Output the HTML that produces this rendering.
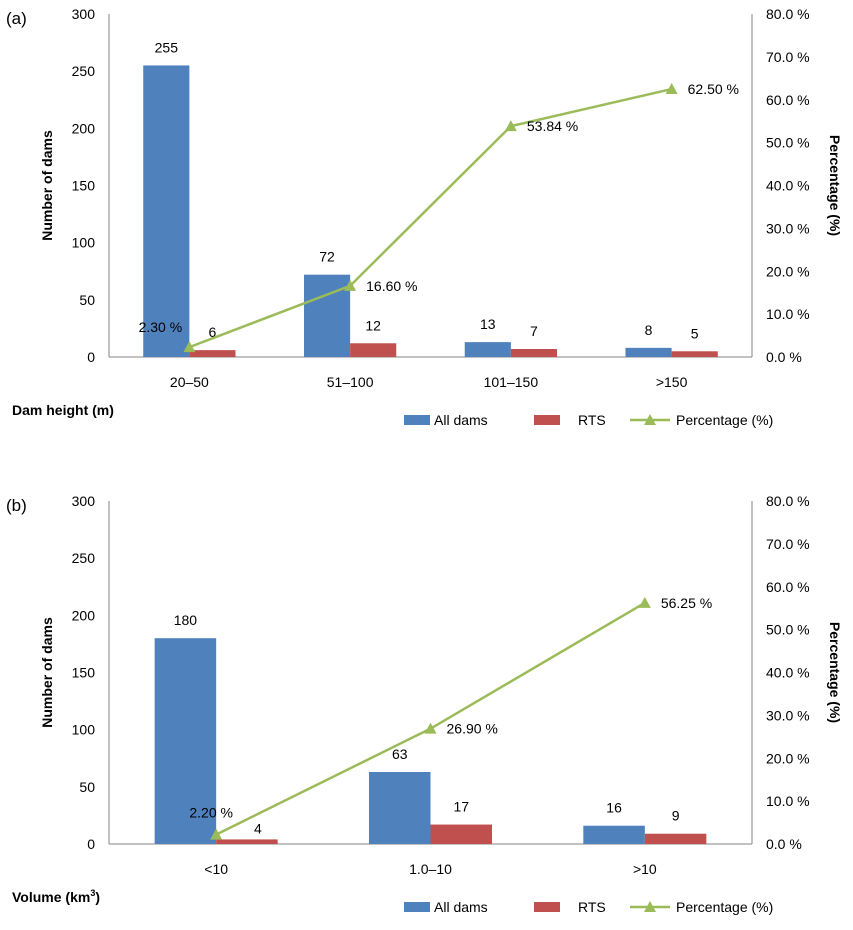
<!DOCTYPE html>
<html><head><meta charset="utf-8"><style>
body{margin:0;background:#fff;font-family:"Liberation Sans",sans-serif;}
svg text{font-family:"Liberation Sans",sans-serif;fill:#000;}
</style></head><body>
<svg id="c" width="853" height="925" xmlns="http://www.w3.org/2000/svg"></svg>
<script>
const catsA=["20–50","51–100","101–150",">150"];
const allA=[255,72,13,8];
const rtsA=[6,12,7,5];
const pctA=[2.30,16.60,53.84,62.50];
const pctLabA=["2.30 %","16.60 %","53.84 %","62.50 %"];
const catsB=["<10","1.0–10",">10"];
const allB=[180,63,16];
const rtsB=[4,17,9];
const pctB=[2.20,26.90,56.25];
const pctLabB=["2.20 %","26.90 %","56.25 %"];
const leftTicks=[0,50,100,150,200,250,300];
const rightTicks=[0,10,20,30,40,50,60,70,80];

const svg=document.getElementById('c');
const NS="http://www.w3.org/2000/svg";
function mk(t,a,p){const e=document.createElementNS(NS,t);for(const k in a)e.setAttribute(k,a[k]);(p||svg).appendChild(e);return e;}
function txt(s,a,p){const e=mk('text',a,p);e.textContent=s;return e;}

function panel(id,y0,cats,all,rts,pct,pctLab,letter,xtitle,xtitleSup,firstDx,firstDy,rts0dx,rts0dy){
  const g=mk('g',{});
  
  
  const L=109,R=752,top=y0-343,H=343;
  const yL=v=>y0-v/300*H, yR=v=>y0-v/80*H;
  const cw=(R-L)/cats.length, bw=cw*0.287;
  const cx=i=>L+cw*(i+0.5);
  mk('line',{x1:L,y1:top,x2:L,y2:y0,stroke:'#868686','stroke-width':1},g);
  mk('line',{x1:R,y1:top,x2:R,y2:y0,stroke:'#868686','stroke-width':1},g);
  mk('line',{x1:L,y1:y0,x2:R,y2:y0,stroke:'#868686','stroke-width':1},g);
  leftTicks.forEach(v=>{const t=txt(String(v),{x:L-14,y:yL(v)+5,'font-size':14,'text-anchor':'end'},g);
    });
  rightTicks.forEach(v=>{const t=txt(v.toFixed(1)+' %',{x:R+14,y:yR(v)+5,'font-size':14},g);
    });
  cats.forEach((c,i)=>{
    const b=mk('rect',{x:cx(i)-bw,y:yL(all[i]),width:bw,height:y0-yL(all[i]),fill:'#4f81bd'},g);
    
    const r=mk('rect',{x:cx(i),y:yL(rts[i]),width:bw,height:y0-yL(rts[i]),fill:'#c0504d'},g);
    
    txt(String(all[i]),{x:cx(i)-bw/2,y:yL(all[i])-13,'font-size':14,'text-anchor':'middle'},g);
    const dx=(i===0)?rts0dx:0, dy=(i===0)?rts0dy:-13;
    txt(String(rts[i]),{x:cx(i)+bw/2+dx,y:yL(rts[i])+dy,'font-size':14,'text-anchor':'middle'},g);
    const xl=txt(c,{x:cx(i),y:y0+30,'font-size':14,'text-anchor':'middle'},g);
    
  });
  const pts=pct.map((v,i)=>cx(i)+','+yR(v)).join(' ');
  const pl=mk('polyline',{points:pts,fill:'none',stroke:'#9bbb59','stroke-width':2.5},g);
  
  pct.forEach((v,i)=>{
    const x=cx(i),y=yR(v);
    const m=mk('polygon',{points:`${x-6},${y+5} ${x+6},${y+5} ${x},${y-6}`,fill:'#9bbb59'},g);
    
    if(i===0) txt(pctLab[i],{x:x+firstDx,y:y+firstDy,'font-size':14,'text-anchor':'middle'},g);
    else txt(pctLab[i],{x:x+16,y:y+5,'font-size':14},g);
  });
  txt(letter,{x:6,y:top+10,'font-size':17},g);
  const yt=txt('Number of dams',{x:0,y:0,'font-size':14,'font-weight':'bold','text-anchor':'middle',transform:`translate(52,${top+H/2}) rotate(-90)`},g);
  
  const yr=txt('Percentage (%)',{x:0,y:0,'font-size':14,'font-weight':'bold','text-anchor':'middle',transform:`translate(830,${top+H/2}) rotate(90)`},g);
  
  const xt=txt(xtitle,{x:12,y:y0+58,'font-size':14,'font-weight':'bold'},g);
  
  if(xtitleSup){const ts=mk('tspan',{'font-size':9,dy:-6},xt);ts.textContent=xtitleSup;const t2=mk('tspan',{dy:6},xt);t2.textContent=')';}
  const ly=y0+63;
  const lg=mk('g',{},g);
  
  mk('rect',{x:404,y:ly-5,width:26,height:10,fill:'#4f81bd'},lg);
  txt('All dams',{x:434,y:ly+5,'font-size':14},lg);
  mk('rect',{x:534,y:ly-5,width:26,height:10,fill:'#c0504d'},lg);
  txt('RTS',{x:578,y:ly+5,'font-size':14},lg);
  mk('line',{x1:630,y1:ly,x2:670,y2:ly,stroke:'#9bbb59','stroke-width':2.5},lg);
  mk('polygon',{points:`644,${ly+5} 656,${ly+5} 650,${ly-6}`,fill:'#9bbb59'},lg);
  txt('Percentage (%)',{x:676,y:ly+5,'font-size':14},lg);
}
panel('a',357,catsA,allA,rtsA,pctA,pctLabA,'(a)','Dam height (m)',null,-29,-15,0,-13);
panel('b',844,catsB,allB,rtsB,pctB,pctLabB,'(b)','Volume (km','3',-5,-17,11,-6);
</script>
</body></html>
